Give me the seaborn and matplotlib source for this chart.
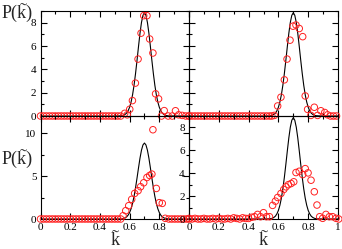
import numpy as np
import pandas as pd
import matplotlib
matplotlib.use("Agg")
import matplotlib.pyplot as plt
import seaborn as sns
from matplotlib.ticker import MultipleLocator, FuncFormatter

sns.set_style("ticks")
plt.rcParams["font.family"] = ["Liberation Serif", "DejaVu Serif"]

# ---- data ----
base_x = [0.00, 0.02, 0.04, 0.06, 0.08, 0.10, 0.12, 0.14, 0.16, 0.18, 0.20,
          0.22, 0.24, 0.26, 0.28, 0.30, 0.32, 0.34, 0.36, 0.38, 0.40, 0.42,
          0.44, 0.46, 0.48, 0.50, 0.52, 0.54]

a_x = [0.567, 0.584, 0.601, 0.619, 0.639, 0.657, 0.677, 0.695, 0.717, 0.735,
       0.757, 0.775, 0.795, 0.815, 0.833, 0.860, 0.887, 0.909, 0.930, 0.954,
       0.978, 1.000]
a_y = [0.23, 0.10, 0.58, 1.32, 2.82, 4.88, 7.10, 8.60, 8.60, 6.60,
       5.40, 1.90, 1.47, 0.00, 0.46, 0.00, 0.00, 0.45, 0.10, 0.05,
       0.00, 0.00]

b_x = [0.556, 0.573, 0.595, 0.617, 0.640, 0.658, 0.678, 0.698, 0.718, 0.740,
       0.763, 0.780, 0.796, 0.818, 0.841, 0.863, 0.885, 0.911, 0.930, 0.950,
       0.970, 0.990]
b_y = [0.00, 0.05, 0.86, 1.61, 3.10, 4.88, 6.50, 7.70, 7.80, 7.50,
       6.80, 1.72, 0.57, 0.05, 0.75, 0.05, 0.45, 0.30, 0.10, 0.00,
       0.00, 0.00]

c_x = [0.556, 0.574, 0.594, 0.614, 0.634, 0.657, 0.674, 0.695, 0.717, 0.735,
       0.750, 0.757, 0.780, 0.800, 0.820, 0.840, 0.864, 0.884, 0.904, 0.924,
       0.944, 0.964, 0.984, 1.000]
c_y = [0.38, 0.97, 1.55, 2.29, 2.98, 3.30, 3.76, 4.22, 4.84, 5.07,
       5.23, 10.40, 3.56, 1.90, 1.82, 0.08, 0.00, 0.00, 0.00, 0.00,
       0.00, 0.00, 0.00, 0.00]

d_base_y = [0.05, 0.00, 0.05, 0.00, 0.00, 0.05, 0.00, 0.00, 0.05, 0.00, 0.05,
            0.00, 0.00, 0.05, 0.00, 0.10, 0.05, 0.00, 0.10, 0.05, 0.05, 0.15,
            0.20, 0.40, 0.20, 0.55, 0.20, 0.20]
d_x = [0.561, 0.580, 0.595, 0.617, 0.636, 0.651, 0.667, 0.685, 0.703, 0.718,
       0.740, 0.763, 0.780, 0.799, 0.819, 0.841, 0.859, 0.877, 0.897, 0.919,
       0.942, 0.964, 0.987, 1.005]
d_y = [1.19, 1.56, 1.88, 2.23, 2.58, 2.81, 3.00, 3.10, 3.25, 4.06,
       4.17, 3.88, 4.40, 4.03, 3.39, 2.38, 1.22, 0.20, 0.06, 0.40,
       0.20, 0.20, 0.06, 0.00]

# reference gaussian (black line)
g_x = [0.00, 0.50, 0.53, 0.55, 0.56, 0.57, 0.58, 0.59, 0.60, 0.61, 0.62, 0.63,
       0.64, 0.65, 0.66, 0.67, 0.68, 0.69, 0.70, 0.71, 0.72, 0.73, 0.74,
       0.75, 0.76, 0.77, 0.78, 0.79, 0.80, 0.81, 0.82, 0.83, 0.84, 0.85,
       0.87, 0.90, 1.00]
g_y = [0.00, 0.00, 0.01, 0.03, 0.07, 0.14, 0.25, 0.45, 0.75, 1.20, 1.82, 2.64,
       3.64, 4.77, 5.96, 7.09, 8.02, 8.63, 8.85, 8.63, 8.02, 7.09, 5.96,
       4.77, 3.64, 2.64, 1.82, 1.20, 0.75, 0.45, 0.25, 0.14, 0.07, 0.03,
       0.01, 0.00, 0.00]

ylims = {"a": 9, "b": 9, "c": 12, "d": 9}

# ---- figure ----
fig = plt.figure(figsize=(3.42, 2.49), dpi=100)
W, H = 342.0, 249.0
L0, L1, R1 = 40.5, 189.0, 338.0
T0, M, B1 = 11.0, 116.0, 219.0

def make_ax(x0, x1, y0, y1):
    return fig.add_axes([x0 / W, (H - y1) / H, (x1 - x0) / W, (y1 - y0) / H])

ax_a = make_ax(L0, L1, T0, M)
ax_b = make_ax(L1, R1, T0, M)
ax_c = make_ax(L0, L1, M, B1)
ax_d = make_ax(L1, R1, M, B1)

panels = [
    (ax_a, base_x + a_x, [0.0] * len(base_x) + a_y, "a"),
    (ax_b, base_x + b_x, [0.0] * len(base_x) + b_y, "b"),
    (ax_c, base_x + c_x, [0.0] * len(base_x) + c_y, "c"),
    (ax_d, base_x + d_x, d_base_y + d_y, "d"),
]

fmt = FuncFormatter(lambda v, p: ("%g" % round(v, 2)))

for ax, xs, ys, key in panels:
    ax.set_facecolor("none")
    df = pd.DataFrame({"k": xs, "P": ys})
    gdf = pd.DataFrame({"k": g_x, "P": g_y})
    sns.lineplot(data=gdf, x="k", y="P", ax=ax, color="black", lw=0.8,
                 estimator=None, sort=False)
    sns.scatterplot(data=df, x="k", y="P", ax=ax, marker="o", s=22,
                    facecolor="none", edgecolor="#ff2020", linewidth=0.7,
                    clip_on=False, zorder=3)
    ax.set_xlim(0, 1)
    ax.set_ylim(0, ylims[key])
    ax.set_xlabel("")
    ax.set_ylabel("")
    ax.xaxis.set_minor_locator(MultipleLocator(0.1))
    if key == "c":
        ax.yaxis.set_major_locator(MultipleLocator(5))
        ax.yaxis.set_minor_locator(MultipleLocator(2.5))
    else:
        ax.yaxis.set_major_locator(MultipleLocator(2))
        ax.yaxis.set_minor_locator(MultipleLocator(1))
    ax.tick_params(which="both", direction="in", top=True, right=True,
                   width=0.8, colors="black", labelsize=8, pad=3)
    ax.tick_params(which="major", length=4)
    ax.tick_params(which="minor", length=2)
    ax.xaxis.set_major_formatter(fmt)
    ax.yaxis.set_major_formatter(fmt)
    for sp in ax.spines.values():
        sp.set_linewidth(0.8)
        sp.set_color("black")
        sp.set_visible(True)

ax_c.set_xticks([0, 0.2, 0.4, 0.6, 0.8])
ax_d.set_xticks([0, 0.2, 0.4, 0.6, 0.8, 1.0])
for ax in (ax_a, ax_b):
    ax.set_xticks([0, 0.2, 0.4, 0.6, 0.8, 1.0])
    ax.tick_params(labelbottom=False)
ax_b.tick_params(labelleft=False)
ax_a.set_yticks([0, 2, 4, 6, 8])
ax_b.set_yticks([0, 2, 4, 6, 8])
ax_d.set_yticks([0, 2, 4, 6, 8])
ax_c.set_yticks([0, 5, 10])

# ---- labels: "P(k)" with a tilde over the k ----
LFS = 13
TFS = 15
renderer = fig.canvas.get_renderer()

def text_width(s):
    t = fig.text(0, 0, s, fontsize=LFS)
    w = t.get_window_extent(renderer).width
    t.remove()
    return w

TILDE = "\u02dc"
TILDE_UP = 0.0  # px shift of the tilde baseline relative to the k baseline

def tilde_label(prefix, x_left_px, base_px):
    full = prefix + "k"
    fig.text(x_left_px / W, (H - base_px) / H, full + ")" if prefix else "k",
             fontsize=LFS, ha="left", va="baseline")
    k_right = text_width(full)
    k_w = text_width("k")
    xc = x_left_px + k_right - k_w / 2.0 + 0.5
    fig.text(xc / W, (H - base_px + TILDE_UP) / H, TILDE, fontsize=TFS,
             ha="center", va="baseline")

tilde_label("P(", 2.0, 17.5)
tilde_label("P(", 2.0, 163.5)

kw = text_width("k")
for xc in ((L0 + L1) / 2.0, (L1 + R1) / 2.0):
    tilde_label("", xc - kw / 2.0, 245.0)

fig.savefig("out.png", dpi=100)
